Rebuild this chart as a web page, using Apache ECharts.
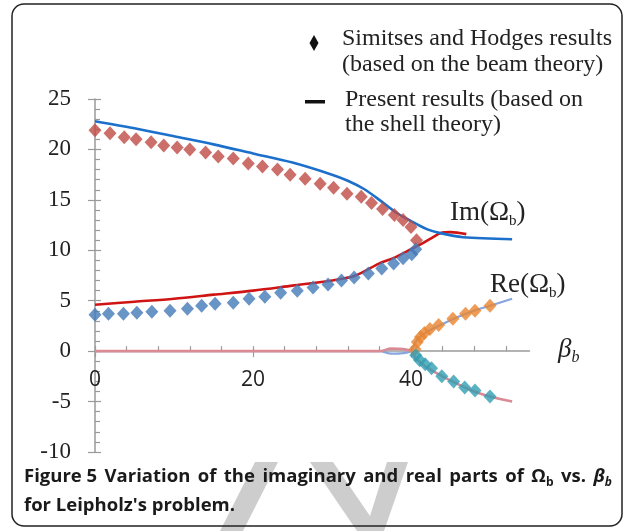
<!DOCTYPE html>
<html><head><meta charset="utf-8">
<script src="https://cdn.jsdelivr.net/npm/echarts@6/dist/echarts.min.js"></script>
<style>html,body{margin:0;padding:0;background:#fff}#c{width:634px;height:531px}</style>
</head><body><div id="c"></div>
<script>
// ---- axis ticks / labels ----
const xMinorTicks = [0,4,8,12,16,20,24,28,32,36,40,44,48,52];
const xTickLabels = [0,20,40];
const yTickLabels = [-10,-5,0,5,10,15,20,25];

// ---- Present results (shell theory), lines ----
const imUpperLineX = [0,5,10,15,20,25,30,32,34,36,38,40,42,43.7,46.6,52.8];
const imUpperLineY = [22.8,22.1,21.3,20.5,19.6,18.7,17.5,16.9,16.1,15.0,13.8,12.9,12.1,11.7,11.3,11.1];
const imLowerLineX = [0,5,10,15,20,25,30,33,36,38,40,41.5,42.8,43.7,45,47];
const imLowerLineY = [4.6,4.9,5.2,5.6,6.0,6.5,7.0,7.5,8.7,9.3,10.1,10.7,11.3,11.7,11.8,11.6];
const reUpperLineX = [0,36,37.5,39,40,40.5,41,42,44,46,48,50,52.8];
const reUpperLineY = [0,0,-0.25,-0.2,0,0.8,1.3,1.9,2.7,3.4,4.0,4.5,5.2];
const reLowerLineX = [0,36,37.5,39,40,40.5,41,42,44,46,48,50,52.8];
const reLowerLineY = [0,0,0.25,0.2,0,-0.6,-1.0,-1.6,-2.5,-3.3,-4.0,-4.5,-5.0];

// ---- Simitses and Hodges results (beam theory), diamonds ----
const imUpperBeamX = [0,1.9,3.7,5.2,7.1,8.7,10.4,12.0,14.0,15.6,17.5,19.4,21.2,23.1,24.7,26.6,28.5,30.2,31.9,33.7,35.0,36.4,37.9,39.0,40.0,40.7];
const imUpperBeamY = [21.9,21.6,21.2,21.0,20.7,20.4,20.2,20.0,19.7,19.3,19.1,18.6,18.3,18.0,17.5,17.1,16.6,16.2,15.6,15.3,14.7,14.1,13.5,13.0,12.3,11.0];
const imLowerBeamX = [0,1.7,3.6,5.3,7.2,9.5,11.7,13.5,15.2,17.5,19.5,21.5,23.5,25.6,27.6,29.5,31.2,32.8,34.6,36.3,37.8,39.0,40.1,40.6];
const imLowerBeamY = [3.6,3.7,3.7,3.8,3.9,4.0,4.2,4.5,4.7,4.8,5.2,5.4,5.8,6.0,6.3,6.6,7.0,7.3,7.7,8.2,8.7,9.2,9.6,10.1];
const reUpperBeamX = [40.5,40.8,41.2,41.7,42.4,43.5,45.3,46.9,48.1,50.0];
const reUpperBeamY = [0.2,0.9,1.4,1.8,2.2,2.6,3.2,3.7,4.0,4.5];
const reLowerBeamX = [40.6,41.1,41.8,42.6,43.9,45.4,46.8,48.1,50.0];
const reLowerBeamY = [-0.4,-0.9,-1.3,-1.7,-2.5,-3.0,-3.6,-3.9,-4.5];

const zip = (xs, ys) => xs.map((x, i) => [x, ys[i]]);

const SERIF = 'Liberation Serif';
const SANS = 'Open Sans';
const CAP = 18.5;
const X_MIN = 0, X_MAX = 55, Y_MIN = -10, Y_MAX = 25;

// main plotting grid
const G = { left: 95, right: 104.5, top: 99, bottom: 79 };
const plotH = 531 - G.top - G.bottom;
// the x axis crosses the y axis at 0: a second grid whose bottom edge sits at y = 0
const zeroPx = G.top + (Y_MAX - 0) / (Y_MAX - Y_MIN) * plotH;

function lineSeries(name, xs, ys, color, width, z) {
  return { name, type: 'line', data: zip(xs, ys), showSymbol: false, smooth: 0.3,
    lineStyle: { color, width }, z, silent: true };
}
function diamondSeries(name, xs, ys, color) {
  return { name, type: 'scatter', data: zip(xs, ys), symbol: 'diamond', symbolSize: [13, 14],
    itemStyle: { color }, z: 5, silent: true };
}

// caption line 1 is justified to the caption width
const capWords = ['Figure 5', 'Variation', 'of', 'the', 'imaginary', 'and', 'real', 'parts', 'of'];
const ctx = document.createElement('canvas').getContext('2d');
function tw(t, f) { ctx.font = f; return ctx.measureText(t).width; }
const fB = 'bold ' + CAP + 'px "' + SANS + '"';
const fBI = 'italic bold ' + CAP + 'px "' + SANS + '"';
const fS = 'bold 12px "' + SANS + '"';
const fSI = 'italic bold 12px "' + SANS + '"';
let used = capWords.reduce((s, w) => s + tw(w, fB), 0)
  + tw('Ω', fB) + tw('b', fS) + tw('vs.', fB) + tw('β', fBI) + tw('b', fSI);
const gaps = capWords.length + 2;
used += gaps * tw(' ', fB);
const pad = Math.max(0, (588 - used) / gaps / 2);
const capLine1 = capWords.map(w => '{t|' + w + '}').join('{w| }')
  + '{w| }{t|Ω}{s|b}{w| }{t|vs.}{w| }{bi|β}{si|b}';

const AX = '#9a9a9a';
const chart = echarts.init(document.getElementById('c'), null, { renderer: 'canvas' });
chart.setOption({
  animation: false,
  backgroundColor: '#fff',
  grid: [
    { left: G.left, right: G.right, top: G.top, bottom: G.bottom },
    { left: G.left, right: G.right, top: G.top, bottom: 531 - zeroPx }
  ],
  xAxis: [
    { type: 'value', gridIndex: 0, min: X_MIN, max: X_MAX, show: false },
    { type: 'value', gridIndex: 1, min: X_MIN, max: X_MAX, position: 'bottom',
      axisLine: { onZero: false, lineStyle: { color: AX, width: 1.5 } },
      axisTick: { inside: true, length: 5, customValues: xMinorTicks, lineStyle: { color: AX, width: 1.2 } },
      axisLabel: { customValues: xTickLabels, fontFamily: SANS, fontSize: 21, color: '#222', margin: 18 },
      splitLine: { show: false } },
    { type: 'value', gridIndex: 1, min: X_MIN, max: X_MAX, position: 'bottom', offset: 0,
      axisLine: { show: false, onZero: false },
      axisTick: { length: 6, customValues: xTickLabels, lineStyle: { color: AX, width: 1.2 } },
      axisLabel: { show: false }, splitLine: { show: false } }
  ],
  yAxis: [
    { type: 'value', gridIndex: 0, min: Y_MIN, max: Y_MAX, interval: 5, position: 'left',
      axisLine: { show: true, onZero: false, lineStyle: { color: AX, width: 1.5 } },
      axisTick: { show: true, length: 7, lineStyle: { color: AX, width: 1.2 } },
      axisLabel: { customValues: yTickLabels, fontFamily: SERIF, fontSize: 23, color: '#222', margin: 24 },
      splitLine: { show: false } },
    { type: 'value', gridIndex: 0, min: Y_MIN, max: Y_MAX, interval: 5, position: 'left', offset: 0,
      axisLine: { show: false, onZero: false },
      axisTick: { show: true, inside: true, length: 6, lineStyle: { color: AX, width: 1.2 } },
      minorTick: { show: true, splitNumber: 5, length: 5, lineStyle: { color: AX, width: 1.2 } },
      axisLabel: { show: false }, splitLine: { show: false } },
    { type: 'value', gridIndex: 1, min: 0, max: Y_MAX, show: false }
  ],
  series: [
    lineSeries('Re (upper, shell)', reUpperLineX, reUpperLineY, '#87a6dc', 2.2, 2),
    lineSeries('Re (lower, shell)', reLowerLineX, reLowerLineY, '#d98a94', 2.6, 2),
    lineSeries('Im (lower, shell)', imLowerLineX, imLowerLineY, '#d01414', 2.6, 3),
    lineSeries('Im (upper, shell)', imUpperLineX, imUpperLineY, '#1c6fca', 2.6, 3),
    diamondSeries('Im (upper, beam)', imUpperBeamX, imUpperBeamY, '#bf4a45'),
    diamondSeries('Im (lower, beam)', imLowerBeamX, imLowerBeamY, '#4479b8'),
    diamondSeries('Re (upper, beam)', reUpperBeamX, reUpperBeamY, '#e8852f'),
    diamondSeries('Re (lower, beam)', reLowerBeamX, reLowerBeamY, '#2f9db2')
  ],
  graphic: [
    // watermark strokes behind caption
    { type: 'polygon', shape: { points: [[255, 462], [278, 462], [243, 531], [220, 531]] }, style: { fill: '#cdcdcd' }, z: 90 },
    { type: 'polygon', shape: { points: [[310, 462], [333, 462], [370, 516], [387, 462], [408, 462], [384, 531], [357, 531]] }, style: { fill: '#cdcdcd' }, z: 90 },
    { type: 'rect', shape: { x: 12, y: 4, width: 610, height: 522, r: 12 }, style: { fill: 'none', stroke: '#222', lineWidth: 1.5 }, z: 100 },
    // legend
    { type: 'polygon', shape: { points: [[314, 35], [318.5, 43], [314, 51], [309.5, 43]] }, style: { fill: '#111' }, z: 100 },
    { type: 'text', left: 342, top: 27, style: { text: 'Simitses and Hodges results', fontFamily: SERIF, fontSize: 24, fill: '#222' }, z: 100 },
    { type: 'text', left: 342, top: 53, style: { text: '(based on the beam theory)', fontFamily: SERIF, fontSize: 24, fill: '#222' }, z: 100 },
    { type: 'rect', shape: { x: 305, y: 100, width: 20, height: 3.5 }, style: { fill: '#111' }, z: 100 },
    { type: 'text', left: 345, top: 88, style: { text: 'Present results (based on', fontFamily: SERIF, fontSize: 24, fill: '#222' }, z: 100 },
    { type: 'text', left: 345, top: 113, style: { text: 'the shell theory)', fontFamily: SERIF, fontSize: 24, fill: '#222' }, z: 100 },
    // annotations
    { type: 'text', left: 450, top: 199, style: { text: '{m|Im(Ω}{s|b}{m|)}', rich: {
        m: { fontFamily: SERIF, fontSize: 27, lineHeight: 32, fill: '#222' },
        s: { fontFamily: SERIF, fontSize: 15, lineHeight: 15, verticalAlign: 'bottom', fill: '#222' } } }, z: 100 },
    { type: 'text', left: 490, top: 271, style: { text: '{m|Re(Ω}{s|b}{m|)}', rich: {
        m: { fontFamily: SERIF, fontSize: 27, lineHeight: 32, fill: '#222' },
        s: { fontFamily: SERIF, fontSize: 15, lineHeight: 15, verticalAlign: 'bottom', fill: '#222' } } }, z: 100 },
    { type: 'text', left: 558, top: 336, style: { text: '{m|β}{s|b}', rich: {
        m: { fontFamily: SERIF, fontSize: 27, fontStyle: 'italic', lineHeight: 32, fill: '#222' },
        s: { fontFamily: SERIF, fontSize: 16, fontStyle: 'italic', lineHeight: 16, verticalAlign: 'bottom', fill: '#222' } } }, z: 100 },
    // caption
    { type: 'text', left: 24, top: 467, style: {
        text: capLine1,
        rich: {
          t: { fontFamily: SANS, fontSize: CAP, fontWeight: 'bold', lineHeight: 24, fill: '#1a1a1a' },
          w: { fontFamily: SANS, fontSize: CAP, fontWeight: 'bold', lineHeight: 24, padding: [0, pad, 0, pad] },
          s: { fontFamily: SANS, fontSize: 12, fontWeight: 'bold', lineHeight: 12, verticalAlign: 'bottom', fill: '#1a1a1a' },
          bi: { fontFamily: SANS, fontSize: CAP, fontWeight: 'bold', fontStyle: 'italic', lineHeight: 24, fill: '#1a1a1a' },
          si: { fontFamily: SANS, fontSize: 12, fontWeight: 'bold', fontStyle: 'italic', lineHeight: 12, verticalAlign: 'bottom', fill: '#1a1a1a' }
        } }, z: 100 },
    { type: 'text', left: 24, top: 494, style: { text: "for Leipholz's problem.", fontFamily: SANS, fontSize: CAP, fontWeight: 'bold', lineHeight: 24, fill: '#1a1a1a' }, z: 100 }
  ]
});
</script>
</body></html>
